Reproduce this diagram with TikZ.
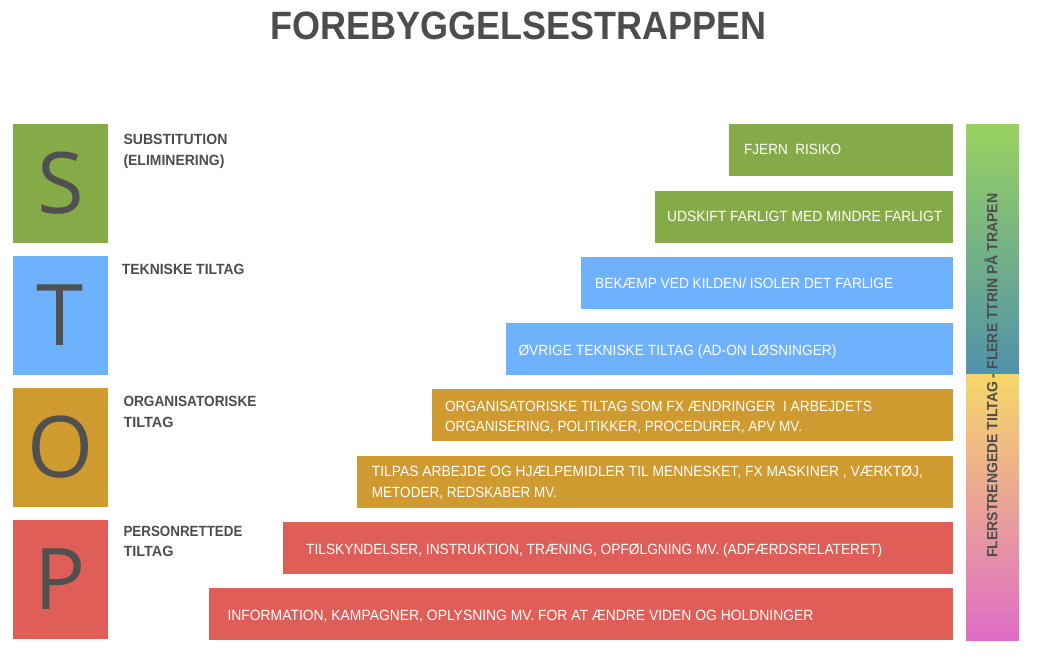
\documentclass[tikz,border=0pt]{standalone}
\usepackage{fontspec}
\setmainfont{Liberation Sans}
\newfontfamily\letterfont{Open Sans}
\definecolor{cgreen}{HTML}{85AA48}
\definecolor{cblue}{HTML}{6EB1FC}
\definecolor{cgold}{HTML}{CF9A2F}
\definecolor{cred}{HTML}{DF5F58}
\definecolor{cgray}{HTML}{4D4D4D}
\definecolor{cletter}{HTML}{505050}
\definecolor{gtop}{HTML}{9AD260}
\definecolor{gmid}{HTML}{4F92AB}
\definecolor{ytop}{HTML}{F6D769}
\definecolor{ymid}{HTML}{ECA58A}
\definecolor{ybot}{HTML}{DE6DC6}
\newcommand\fw[2]{\resizebox{#1}{\height}{#2}}
\tikzset{
  barbox/.style={anchor=north west, inner sep=0pt, outer sep=0pt, minimum height=52pt},
  btext/.style={anchor=base west, inner sep=0pt, text=white, font=\fontsize{14.8}{18}\selectfont},
  lbl/.style={anchor=base west, inner sep=0pt, text=cgray, font=\bfseries\fontsize{14.8}{18}\selectfont},
  letterbox/.style={anchor=north west, inner sep=0pt, outer sep=0pt, minimum width=95pt, minimum height=119pt},
  bigletter/.style={inner sep=0pt, text=cletter, font=\letterfont\fontsize{85}{90}\selectfont},
}
\begin{document}
\begin{tikzpicture}[x=1pt,y=-1pt]
\useasboundingbox (0,0) rectangle (1037,672);
\fill[white] (0,0) rectangle (1037,672);
% title
\node[anchor=base, inner sep=0pt, text=cgray] (title) at (518.7,39.3)
  {\resizebox{496pt}{27.6pt}{\bfseries FOREBYGGELSESTRAPPEN}};
% letter boxes
\node[letterbox, fill=cgreen] (sbox) at (13,124) {};
\node[letterbox, fill=cblue]  (tbox) at (13,256) {};
\node[letterbox, fill=cgold]  (obox) at (13,388) {};
\node[letterbox, fill=cred]   (pbox) at (13,520) {};
\node[bigletter] (sl) at (sbox.center) {S};
\node[bigletter] (tl) at (tbox.center) {T};
\node[bigletter] (ol) at (obox.center) {O};
\node[bigletter] (pl) at (pbox.center) {P};
% labels
\node[lbl] (l1) at (123.3,144) {\fw{104pt}{SUBSTITUTION}};
\node[lbl] (l2) at (123.3,165) {\fw{101pt}{(ELIMINERING)}};
\node[lbl] (l3) at (121.7,274.3) {\fw{122.6pt}{TEKNISKE TILTAG}};
\node[lbl] (l4) at (123.3,406.7) {\fw{133pt}{ORGANISATORISKE}};
\node[lbl] (l5) at (123.3,427.3) {\fw{50pt}{TILTAG}};
\node[lbl] (l6) at (123.3,536) {\fw{119pt}{PERSONRETTEDE}};
\node[lbl] (l7) at (123.3,556) {\fw{50pt}{TILTAG}};
% bars
\node[barbox, fill=cgreen, minimum width=224pt]   (b1) at (729,124) {};
\node[barbox, fill=cgreen, minimum width=298.5pt] (b2) at (654.5,190.5) {};
\node[barbox, fill=cblue,  minimum width=372.2pt] (b3) at (580.8,256.5) {};
\node[barbox, fill=cblue,  minimum width=447.3pt] (b4) at (505.7,323) {};
\node[barbox, fill=cgold,  minimum width=521pt]   (b5) at (432,389) {};
\node[barbox, fill=cgold,  minimum width=596.3pt] (b6) at (356.7,455.5) {};
\node[barbox, fill=cred,   minimum width=669.7pt] (b7) at (283.3,522) {};
\node[barbox, fill=cred,   minimum width=743.7pt] (b8) at (209.3,588) {};
% bar texts
\node[btext] (t1) at (744,154.6) {\fw{97pt}{FJERN\ \ RISIKO}};
\node[btext] (t2) at (667,221.6) {\fw{275pt}{UDSKIFT FARLIGT MED MINDRE FARLIGT}};
\node[btext] (t3) at (595,288.3) {\fw{298pt}{BEKÆMP VED KILDEN/ ISOLER DET FARLIGE}};
\node[btext] (t4) at (518.3,355) {\fw{318pt}{ØVRIGE TEKNISKE TILTAG (AD-ON LØSNINGER)}};
\node[btext] (t5a) at (444.8,411) {\fw{427pt}{ORGANISATORISKE TILTAG SOM FX ÆNDRINGER\ \ I ARBEJDETS}};
\node[btext] (t5b) at (444.8,431.7) {\fw{357pt}{ORGANISERING, POLITIKKER, PROCEDURER, APV MV.}};
\node[btext] (t6a) at (371.7,476.7) {\fw{551pt}{TILPAS ARBEJDE OG HJÆLPEMIDLER TIL MENNESKET, FX MASKINER , VÆRKTØJ,}};
\node[btext] (t6b) at (371.7,497.3) {\fw{185pt}{METODER, REDSKABER MV.}};
\node[btext] (t7) at (306,554) {\fw{576pt}{TILSKYNDELSER, INSTRUKTION, TRÆNING, OPFØLGNING MV. (ADFÆRDSRELATERET)}};
\node[btext] (t8) at (227.3,620) {\fw{586pt}{INFORMATION, KAMPAGNER, OPLYSNING MV. FOR AT ÆNDRE VIDEN OG HOLDNINGER}};
% right gradient bar
\shade[top color=gtop, bottom color=gmid] (966,124) rectangle (1019,374);
\shade[top color=ytop, middle color=ymid, bottom color=ybot] (966,374) rectangle (1019,640);
\coordinate (rb) at (997.3,558);
\node[rotate=90, anchor=base west, inner sep=0pt, text=cgray, font=\bfseries\fontsize{14.8}{18}\selectfont] (rt) at (rb)
  {\fw{364pt}{FLERSTRENGEDE TILTAG - FLERE TTRIN PÅ TRAPEN}};
\end{tikzpicture}
\end{document}
